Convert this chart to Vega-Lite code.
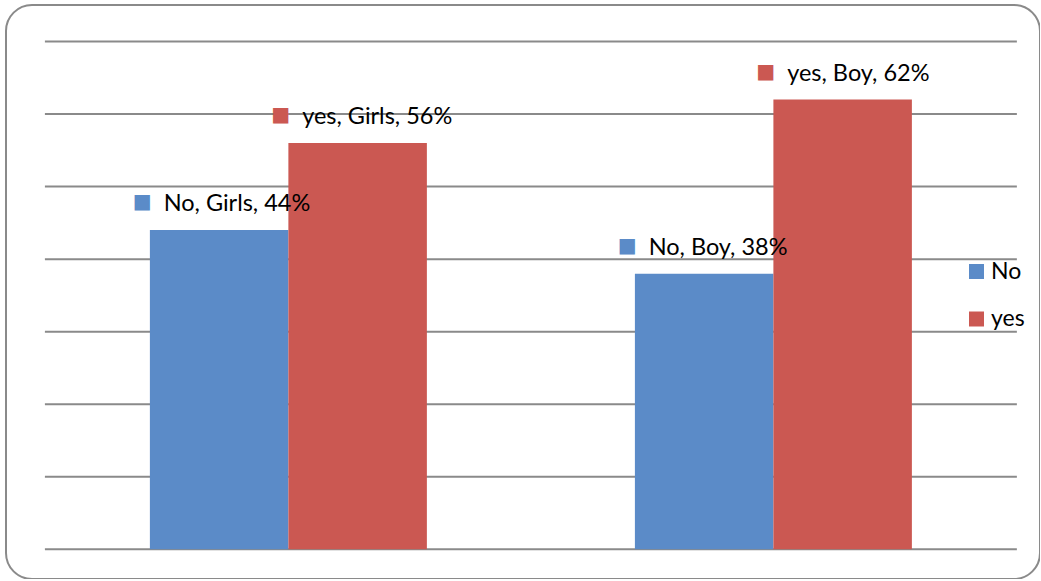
{
  "$schema": "https://vega.github.io/schema/vega-lite/v6.json",
  "width": 1034,
  "height": 574,
  "autosize": {"type": "none"},
  "padding": {"left": 6, "top": 5, "right": 0, "bottom": 0},
  "background": "white",
  "config": {
    "view": {"stroke": "#8a8a8a", "strokeWidth": 2, "cornerRadius": 26},
    "font": "Lato"
  },
  "datasets": {
    "bars": [
      {"gender": "Girls", "answer": "No", "pct": 44, "label": "No, Girls, 44%", "mark": "■"},
      {"gender": "Girls", "answer": "yes", "pct": 56, "label": "yes, Girls, 56%", "mark": "■"},
      {"gender": "Boy", "answer": "No", "pct": 38, "label": "No, Boy, 38%", "mark": "■"},
      {"gender": "Boy", "answer": "yes", "pct": 62, "label": "yes, Boy, 62%", "mark": "■"}
    ],
    "grid": [{"v": 0}, {"v": 10}, {"v": 20}, {"v": 30}, {"v": 40}, {"v": 50}, {"v": 60}, {"v": 70}]
  },
  "layer": [
    {
      "data": {"name": "grid"},
      "mark": {"type": "rule", "color": "#8a8a8a", "strokeWidth": 2},
      "encoding": {
        "y": {"field": "v", "type": "quantitative", "scale": {"domain": [-4.09, 75.03], "nice": false, "zero": false}, "axis": null},
        "x": {"datum": "Girls", "type": "nominal", "bandPosition": -0.379, "axis": null},
        "x2": {"datum": "Boy", "bandPosition": 1.379}
      }
    },
    {
      "data": {"name": "bars"},
      "mark": {"type": "bar"},
      "encoding": {
        "x": {"field": "gender", "type": "nominal", "scale": {"domain": ["Girls", "Boy"], "paddingInner": 0.4289, "paddingOuter": 0.2804, "align": 0.529}, "axis": null},
        "xOffset": {"field": "answer", "type": "nominal", "scale": {"domain": ["No", "yes"], "paddingInner": 0, "paddingOuter": 0}},
        "y": {"field": "pct", "type": "quantitative", "axis": null},
        "color": {
          "field": "answer", "type": "nominal",
          "scale": {"domain": ["No", "yes"], "range": ["#5b8bc8", "#cb5852"]},
          "legend": {"orient": "none", "legendX": 959, "legendY": 255, "title": null, "symbolType": "square", "symbolSize": 225, "symbolStrokeWidth": 0, "labelFontSize": 23, "labelOffset": 3, "rowPadding": 23.5, "padding": 0, "labelColor": "black"}
        }
      }
    },
    {
      "data": {"name": "bars"},
      "mark": {"type": "text", "font": "DejaVu Sans", "fontSize": 20, "align": "center", "baseline": "middle", "dx": -77, "dy": -28},
      "encoding": {
        "x": {"field": "gender", "type": "nominal"},
        "xOffset": {"field": "answer", "type": "nominal"},
        "y": {"field": "pct", "type": "quantitative"},
        "color": {"field": "answer", "type": "nominal"},
        "text": {"field": "mark"}
      }
    },
    {
      "data": {"name": "bars"},
      "mark": {"type": "text", "align": "left", "baseline": "alphabetic", "dx": -55.5, "dy": -19, "fontSize": 23.5, "color": "black"},
      "encoding": {
        "x": {"field": "gender", "type": "nominal"},
        "xOffset": {"field": "answer", "type": "nominal"},
        "y": {"field": "pct", "type": "quantitative"},
        "text": {"field": "label"}
      }
    }
  ]
}
